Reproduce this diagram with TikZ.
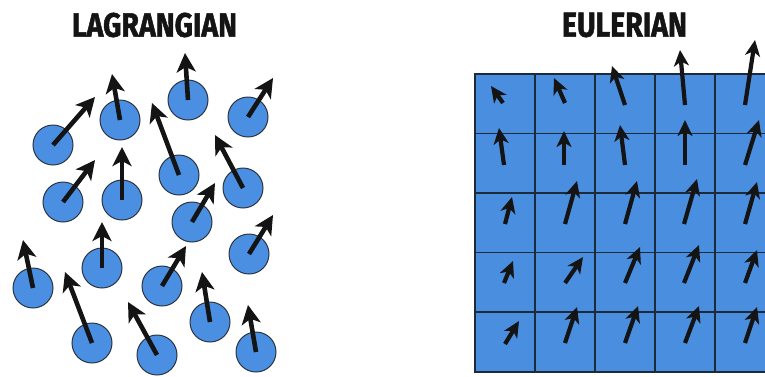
\documentclass[tikz,border=0pt]{standalone}
\usepackage{fontspec}
\usepackage{graphicx}
\setmainfont{Fira Sans}
\newfontfamily\headfont{Fira Sans}[BoldFeatures={FakeBold=1.6}]
\usetikzlibrary{arrows.meta}

\definecolor{particleblue}{HTML}{4A8FE2}
\definecolor{cellblue}{HTML}{4A8EE0}
\definecolor{rimgray}{HTML}{2B3440}
\definecolor{gridnavy}{HTML}{1C2A3A}
\definecolor{inkblack}{HTML}{141414}

\tikzset{
  particle/.style={circle, draw=rimgray, line width=1pt, fill=particleblue,
    minimum size=40pt, inner sep=0pt},
  velocity/.style={draw=inkblack, line width=4.6pt,
    -{Stealth[length=19pt, width=19pt, inset=5pt]}},
  fieldvec/.style={draw=inkblack, line width=4.2pt,
    -{Stealth[length=16pt, width=15pt, inset=4.5pt]}},
  heading/.style={inner sep=0pt, text=inkblack, font=\headfont\bfseries},
}

\begin{document}
\begin{tikzpicture}[x=1pt, y=-1pt]
  \useasboundingbox (0,0) rectangle (765,376);
  \clip (0,0) rectangle (765,376);

  % titles
  \node[heading] (lagtitle) at (154.5,25) {\resizebox{165pt}{24pt}{LAGRANGIAN}};
  \node[heading] (eultitle) at (624.5,25) {\resizebox{125pt}{24pt}{EULERIAN}};

  % Lagrangian particles: centre x, centre y, velocity tip x, tip y
  \foreach \i/\cx/\cy/\hx/\hy in {
     1/53/145/95/97,
     2/120/120/112/74,
     3/188/100/185/53,
     4/248/117/273/78,
     5/179/175/152/103,
     6/243/188/215/135,
     7/63/202/95/160,
     8/122/200/122/147,
     9/192/222/215/183,
    10/249/254/273/215,
    11/102/268/102/222,
    12/33/288/23/240,
    13/162/286/186/246,
    14/92/343/65/272,
    15/157/355/128/302,
    16/210/322/202/272,
    17/256/352/248/305}{
    \node[particle] (p\i) at (\cx,\cy) {};
    \coordinate (v\i) at (\hx,\hy);
    \draw[velocity] (p\i.center) -- (v\i);
  }

  % Eulerian grid
  \fill[cellblue] (475,74) rectangle (775,372);
  \foreach \gx in {535,595,655,715}
    \draw[gridnavy, line width=1.3pt] (\gx,74) -- (\gx,372);
  \foreach \gy in {133.5,193,252.5,312}
    \draw[gridnavy, line width=1.3pt] (475,\gy) -- (775,\gy);
  \draw[gridnavy, line width=1.3pt] (775,74) -- (475,74) -- (475,372) -- (775,372);

  % field vectors sampled at cell centres: tail x, tail y, tip x, tip y
  \foreach \j/\tx/\ty/\hx/\hy in {
     1/503/103/491/86,  2/565/103/554/78,  3/625/105/612/66,
     4/685/105/680/50,  5/745/105/755/40,
     6/504/165/499/128, 7/564/165/564/131, 8/625/165/620/125,
     9/685/165/685/120, 10/745/165/759/120,
    11/505/224/512/197, 12/565/224/577/181, 13/625/224/637/181,
    14/684/224/697/179, 15/745/224/757/182,
    16/504/283/513/261, 17/565/283/583/257, 18/625/283/640/247,
    19/684/283/699/245, 20/745/283/757/250,
    21/505/344/519/321, 22/565/343/577/307, 23/625/343/638/306,
    24/685/343/699/306, 25/745/343/757/307}{
    \coordinate (t\j) at (\tx,\ty);
    \coordinate (h\j) at (\hx,\hy);
    \draw[fieldvec] (t\j) -- (h\j);
  }
\end{tikzpicture}
\end{document}
